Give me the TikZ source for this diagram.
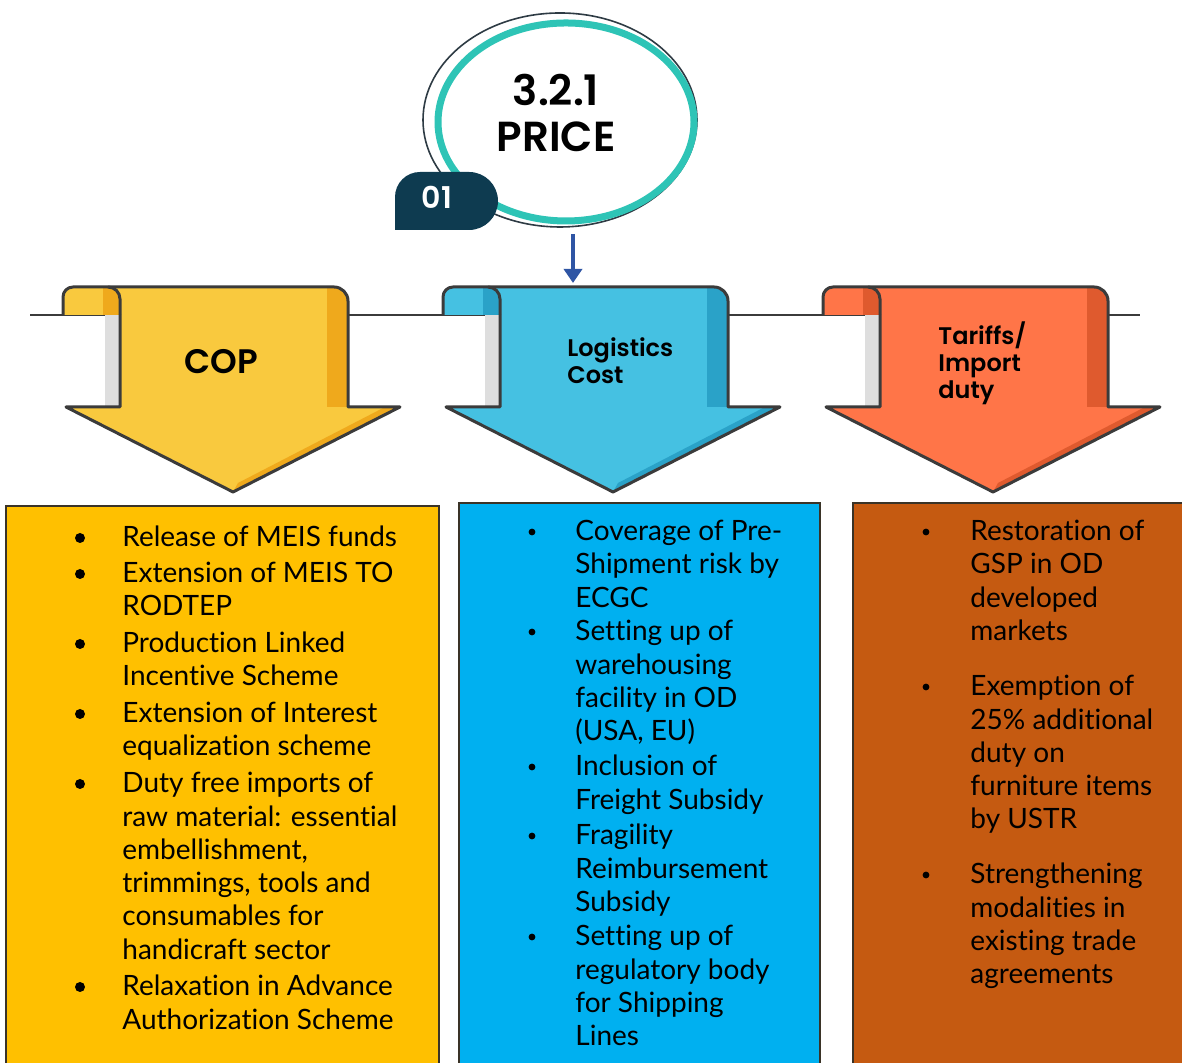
\documentclass[tikz,border=0pt]{standalone}
\usepackage{fontspec}
\setmainfont[Ligatures=NoCommon]{Lato}
\newfontfamily\headfont[BoldFont={Poppins SemiBold}]{Poppins}
\usetikzlibrary{arrows.meta,shapes.geometric}

\definecolor{copfill}{HTML}{F9C93E}
\definecolor{copdark}{HTML}{EFA91C}
\definecolor{logfill}{HTML}{45C1E2}
\definecolor{logdark}{HTML}{2AA2C8}
\definecolor{tarfill}{HTML}{FF7548}
\definecolor{tardark}{HTML}{DF5A2E}
\definecolor{edgegray}{HTML}{3B3B3B}
\definecolor{shadowgray}{HTML}{DEDEDE}
\definecolor{ringteal}{HTML}{2EC4B6}
\definecolor{ringdark}{HTML}{2E3B44}
\definecolor{badgenavy}{HTML}{0E3B50}
\definecolor{flowblue}{HTML}{2F55A4}
\definecolor{copbox}{HTML}{FFC000}
\definecolor{logbox}{HTML}{00B0F0}
\definecolor{tarbox}{HTML}{C55A11}
\definecolor{boxedge}{HTML}{3A3327}

\begin{document}
\begin{tikzpicture}[x=0.5pt,y=0.5pt,
  bullettext/.style={anchor=north west, inner sep=0pt, align=left, font=\fontsize{14}{16.65}\selectfont},
  bigdot/.style={circle, fill, inner sep=0pt, minimum size=5pt},
  smalldot/.style={circle, fill, inner sep=0pt, minimum size=3.4pt},
  scrollline/.style={draw=edgegray, line width=1.5pt, line join=round},
  boxline/.style={draw=boxedge, line width=0.8pt},
  headtext/.style={align=left, inner sep=0pt, font=\headfont\bfseries\fontsize{12}{13.5}\selectfont},
  flowarrow/.style={draw=flowblue, line width=2pt, -{Triangle[width=9pt,length=7pt]}}]
\useasboundingbox (0,0) rectangle (1182,1063);

% line behind the scrolls
\draw[edgegray, line width=1pt] (30,748) -- (1140,748);

% the three scroll arrows
\foreach \L/\main/\dark in {63/copfill/copdark, 443/logfill/logdark, 823/tarfill/tardark}{
\begin{scope}[shift={(\L,0)}]
\fill[shadowgray] (42,656) rectangle (57,748);
\fill[\main] (0,748) -- (0,766) arc[start angle=180,end angle=90,radius=10] -- (271,776)
  arc[start angle=90,end angle=0,radius=14] -- (285,656) -- (337,656) -- (170,571) -- (3,656) -- (57,656) -- (57,748) -- cycle;
\fill[\dark] (40,748) -- (40,776) -- (45,776) arc[start angle=90,end angle=0,radius=12] -- (57,748) -- cycle;
\fill[\dark] (264,656) -- (264,776) -- (271,776) arc[start angle=90,end angle=0,radius=14] -- (285,656) -- cycle;
\fill[\dark] (337,656) -- (170,571) -- (175,580) -- (322,656) -- cycle;
\draw[scrollline] (0,748) -- (0,766) arc[start angle=180,end angle=90,radius=10] -- (271,776)
  arc[start angle=90,end angle=0,radius=14] -- (285,656) -- (337,656) -- (170,571) -- (3,656) -- (57,656) -- (57,748);
\draw[scrollline] (57,748) -- (57,764) arc[start angle=0,end angle=90,radius=12] -- (45,776);
\end{scope}
}

\node[font=\headfont\bfseries\fontsize{17}{20}\selectfont] (cop) at (221,701) {COP};
\node[headtext, anchor=west] (logistics) at (567,702) {Logistics\\Cost};
\node[headtext, anchor=west] (tariffs) at (938,700) {Tariffs/\\Import\\duty};

% price circle
\draw[ringdark, line width=0.8pt, fill=white] (560,943) ellipse [x radius=137, y radius=107];
\node[ellipse, draw=ringteal, line width=3.5pt, minimum width=128pt, minimum height=99pt] (price) at (566,941) {};
\node[align=center, font=\headfont\bfseries\fontsize{21}{23}\selectfont] (pricetext) at (556,950) {3.2.1\\PRICE};
\fill[badgenavy] (395,833) -- (395,866) arc[start angle=180,end angle=90,radius=25] -- (469,891)
  arc[start angle=90,end angle=-90,radius=29] -- cycle;
\node[text=white, font=\headfont\bfseries\fontsize{15}{17}\selectfont] (badge) at (437,866) {01};

\coordinate (logtop) at (573,780);
\draw[flowarrow, shorten <=5pt] (price.south -| logtop) -- (logtop);

% boxes
\fill[copbox] (6,0) rectangle (439,557);
\draw[boxline] (6,0) -- (6,557) -- (439,557) -- (439,0);
\fill[logbox] (459,0) rectangle (820,560);
\draw[boxline] (459,0) -- (459,560) -- (820,560) -- (820,0);
\fill[tarbox] (853,0) rectangle (1182,560);
\draw[boxline] (853,0) -- (853,560) -- (1182,560);

% COP items
\node[bigdot] (bmeis) at (80,525) {};
\node[bullettext] (meis) at (122,540) {\strut Release of MEIS funds};
\node[bigdot] (brodtep) at (80,489) {};
\node[bullettext] (rodtep) at (122,504) {\strut Extension of MEIS TO\\RODTEP};
\node[bigdot] (bpli) at (80,419) {};
\node[bullettext] (pli) at (122,434) {\strut Production Linked\\Incentive Scheme};
\node[bigdot] (bies) at (80,349) {};
\node[bullettext] (ies) at (122,364) {\strut Extension of Interest\\equalization scheme};
\node[bigdot] (bduty) at (80,279) {};
\node[bullettext] (duty) at (122,294) {\strut Duty free imports of\\raw material: essential\\embellishment,\\trimmings, tools and\\consumables for\\handicraft sector};
\node[bigdot] (baas) at (80,76) {};
\node[bullettext] (aas) at (122,91) {\strut Relaxation in Advance\\Authorization Scheme};

% Logistics items
\node[smalldot] (becgc) at (532,531) {};
\node[bullettext] (ecgc) at (575,546) {\strut Coverage of Pre-\\Shipment risk by\\ECGC};
\node[smalldot] (bware) at (532,431) {};
\node[bullettext] (ware) at (575,446) {\strut Setting up of\\warehousing\\facility in OD\\(USA, EU)};
\node[smalldot] (bfreight) at (532,296) {};
\node[bullettext] (freight) at (575,311) {\strut Inclusion of\\Freight Subsidy};
\node[smalldot] (bfragile) at (532,227) {};
\node[bullettext] (fragile) at (575,242) {\strut Fragility\\Reimbursement\\Subsidy};
\node[smalldot] (breg) at (532,126) {};
\node[bullettext] (reg) at (575,141) {\strut Setting up of\\regulatory body\\for Shipping\\Lines};

% Tariff items
\node[smalldot] (bgsp) at (926,531) {};
\node[bullettext] (gsp) at (970,546) {\strut Restoration of\\GSP in OD\\developed\\markets};
\node[smalldot] (bexempt) at (926,376) {};
\node[bullettext] (exempt) at (970,391) {\strut Exemption of\\25\% additional\\duty on\\furniture items\\by USTR};
\node[smalldot] (bmodal) at (926,188) {};
\node[bullettext] (modal) at (970,203) {\strut Strengthening\\modalities in\\existing trade\\agreements};
\end{tikzpicture}
\end{document}
